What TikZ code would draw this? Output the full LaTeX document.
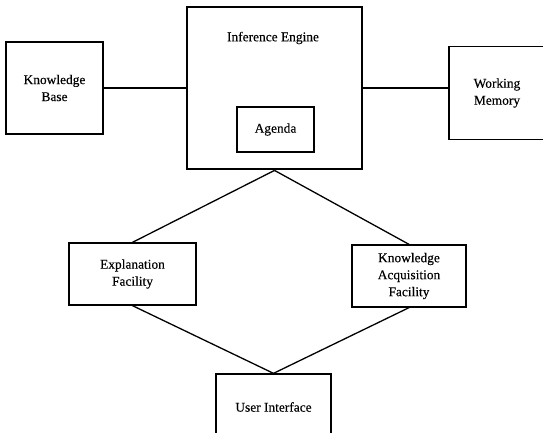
\documentclass[tikz,border=0pt]{standalone}
\usepackage{fontspec}
\setmainfont{Liberation Serif}[FakeBold=0.3]
\begin{document}
\begin{tikzpicture}[x=1pt,y=-1pt,
  box/.style={draw=black, line width=1.3pt, rectangle, inner sep=0pt, align=center,
    font=\fontsize{13.4}{17}\selectfont},
  bigbox/.style={draw=black, line width=2.8pt, rectangle, inner sep=0pt},
  lbl/.style={inner sep=0pt, font=\fontsize{13.4}{17}\selectfont},
  conn/.style={draw=black, line width=1.3pt}]
\useasboundingbox (0,0) rectangle (543,433);
\clip (0,0) rectangle (543,433);
\node[box, minimum width=97pt, minimum height=92pt] (kb) at (54.5,88) {Knowledge\\Base};
\node[bigbox, minimum width=175pt, minimum height=162pt] (ie) at (274.5,88) {};
\node[lbl] (ietext) at (273,38) {Inference Engine};
\node[box, minimum width=77pt, minimum height=45pt] (ag) at (275.5,129.5) {Agenda};
\node[box, minimum width=96pt, minimum height=93pt] (wm) at (497,93) {Working\\Memory};
\node[box, minimum width=127pt, minimum height=62pt] (ef) at (132.5,274) {Explanation\\Facility};
\node[box, minimum width=114pt, minimum height=62pt] (kaf) at (409,276) {Knowledge\\Acquisition\\Facility};
\node[box, minimum width=115pt, minimum height=66pt] (ui) at (273.5,407) {User Interface};
\draw[conn] (kb.east) -- (kb.east -| ie.west);
\draw[conn] (ie.east) -- (ie.east -| wm.west);
\draw[conn] (ie.south) -- (ef.north);
\draw[conn] (ie.south) -- (kaf.north);
\draw[conn] (ef.south) -- (ui.north);
\draw[conn] (kaf.south) -- (ui.north);
\end{tikzpicture}
\end{document}
